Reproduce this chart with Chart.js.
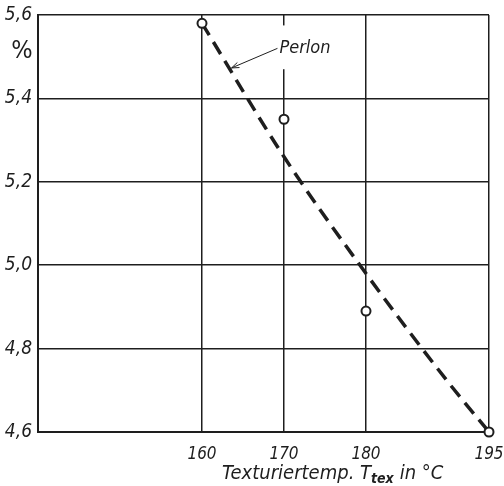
<!DOCTYPE html>
<html>
<head>
<meta charset="utf-8">
<script src="https://cdn.jsdelivr.net/npm/chart.js@4/dist/chart.umd.min.js"></script>
<style>
html,body{margin:0;padding:0;background:#fff;}
#wrap{width:504px;height:486px;position:relative;}
</style>
</head>
<body>
<div id="wrap"><canvas id="c" width="504" height="486"></canvas></div>
<script>
// measured points (open circles)
const measTemp=[160,170,180,195];
const measVal=[5.58,5.35,4.89,4.60];
// dashed Perlon curve
const curveTemp=[160,170,180,190,195];
const curveVal=[5.58,5.26,4.98,4.72,4.60];
// axes
const xTicks=[160,170,180,195];
const yTicks=[4.6,4.8,5.0,5.2,5.4,5.6];
const xMin=140,xMax=195,yMin=4.6,yMax=5.6;

const INK='#1e1e1e';
const FONT="'Liberation Sans Narrow','DejaVu Sans Condensed','Liberation Sans',sans-serif";

const extras={
  id:'extras',
  beforeDatasetsDraw(ch){
    // gap in the 170 grid line behind the label
    const {ctx,scales:{x,y}}=ch;
    ctx.save();
    ctx.fillStyle='#fff';
    const px=x.getPixelForValue(170);
    ctx.fillRect(px-3,y.getPixelForValue(5.575),6,y.getPixelForValue(5.47)-y.getPixelForValue(5.575));
    ctx.restore();
  },
  afterDraw(ch){
    const {ctx,scales:{x,y}}=ch;
    ctx.save();
    ctx.fillStyle=INK;ctx.strokeStyle=INK;
    // % unit
    ctx.font="25px "+FONT;
    ctx.textAlign='center';ctx.textBaseline='middle';
    ctx.fillText('%',22,51);
    // Perlon label + pointer
    const lx=x.getPixelForValue(169.2),ly=y.getPixelForValue(5.52);
    const tx=x.getPixelForValue(163.6),ty=y.getPixelForValue(5.473);
    ctx.font="italic 18px "+FONT;
    ctx.textAlign='left';
    ctx.fillText('Perlon',lx+2,ly);
    ctx.lineWidth=1;
    ctx.beginPath();ctx.moveTo(lx,ly);ctx.lineTo(tx,ty);ctx.stroke();
    const a=Math.atan2(ty-ly,tx-lx);
    ctx.beginPath();
    ctx.moveTo(tx,ty);ctx.lineTo(tx-8*Math.cos(a-0.35),ty-8*Math.sin(a-0.35));
    ctx.moveTo(tx,ty);ctx.lineTo(tx-8*Math.cos(a+0.35),ty-8*Math.sin(a+0.35));
    ctx.stroke();
    // axis title with subscript
    ctx.textAlign='left';ctx.textBaseline='alphabetic';
    let cx=222;const by=479;
    ctx.font="italic 20px "+FONT;
    const t1='Texturiertemp. T';
    ctx.fillText(t1,cx,by);cx+=ctx.measureText(t1).width;
    ctx.font="italic bold 14px "+FONT;
    ctx.fillText('tex',cx,by+4);cx+=ctx.measureText('tex').width+6;
    ctx.font="italic 20px "+FONT;
    ctx.fillText('in °C',cx,by);
    ctx.restore();
  }
};

new Chart(document.getElementById('c'),{
  type:'scatter',
  data:{datasets:[
    {data:measTemp.map((t,i)=>({x:t,y:measVal[i]})),showLine:false,
     pointRadius:4.5,pointBackgroundColor:'#fff',pointBorderColor:INK,pointBorderWidth:2,clip:false,order:0},
    {data:curveTemp.map((t,i)=>({x:t,y:curveVal[i]})),showLine:true,pointRadius:0,
     borderColor:INK,borderWidth:3.5,borderDash:[14,8],borderCapStyle:'butt',
     cubicInterpolationMode:'monotone',fill:false,clip:false,order:1}
  ]},
  options:{
    responsive:false,animation:false,
    layout:{padding:{left:0,top:15,right:15,bottom:0}},
    plugins:{legend:{display:false},tooltip:{enabled:false}},
    scales:{
      x:{type:'linear',min:xMin,max:xMax,
        afterBuildTicks:s=>{s.ticks=xTicks.map(v=>({value:v}));},
        afterFit:s=>{s.height=54;s.paddingLeft=0;s.paddingRight=0;},
        grid:{color:INK,lineWidth:1.5,drawTicks:false},
        border:{color:INK,width:2},
        ticks:{color:INK,padding:12,font:{family:FONT,size:17,style:'italic'}}},
      y:{min:yMin,max:yMax,
        afterBuildTicks:s=>{s.ticks=yTicks.map(v=>({value:v}));},
        afterFit:s=>{s.width=38;s.paddingTop=0;s.paddingBottom=0;},
        grid:{color:INK,lineWidth:1.5,drawTicks:false},
        border:{color:INK,width:2},
        ticks:{color:INK,padding:6,font:{family:FONT,size:19,style:'italic'},
          callback:v=>v.toFixed(1).replace('.',',')}}
    }
  },
  plugins:[extras]
});
</script>
</body>
</html>
